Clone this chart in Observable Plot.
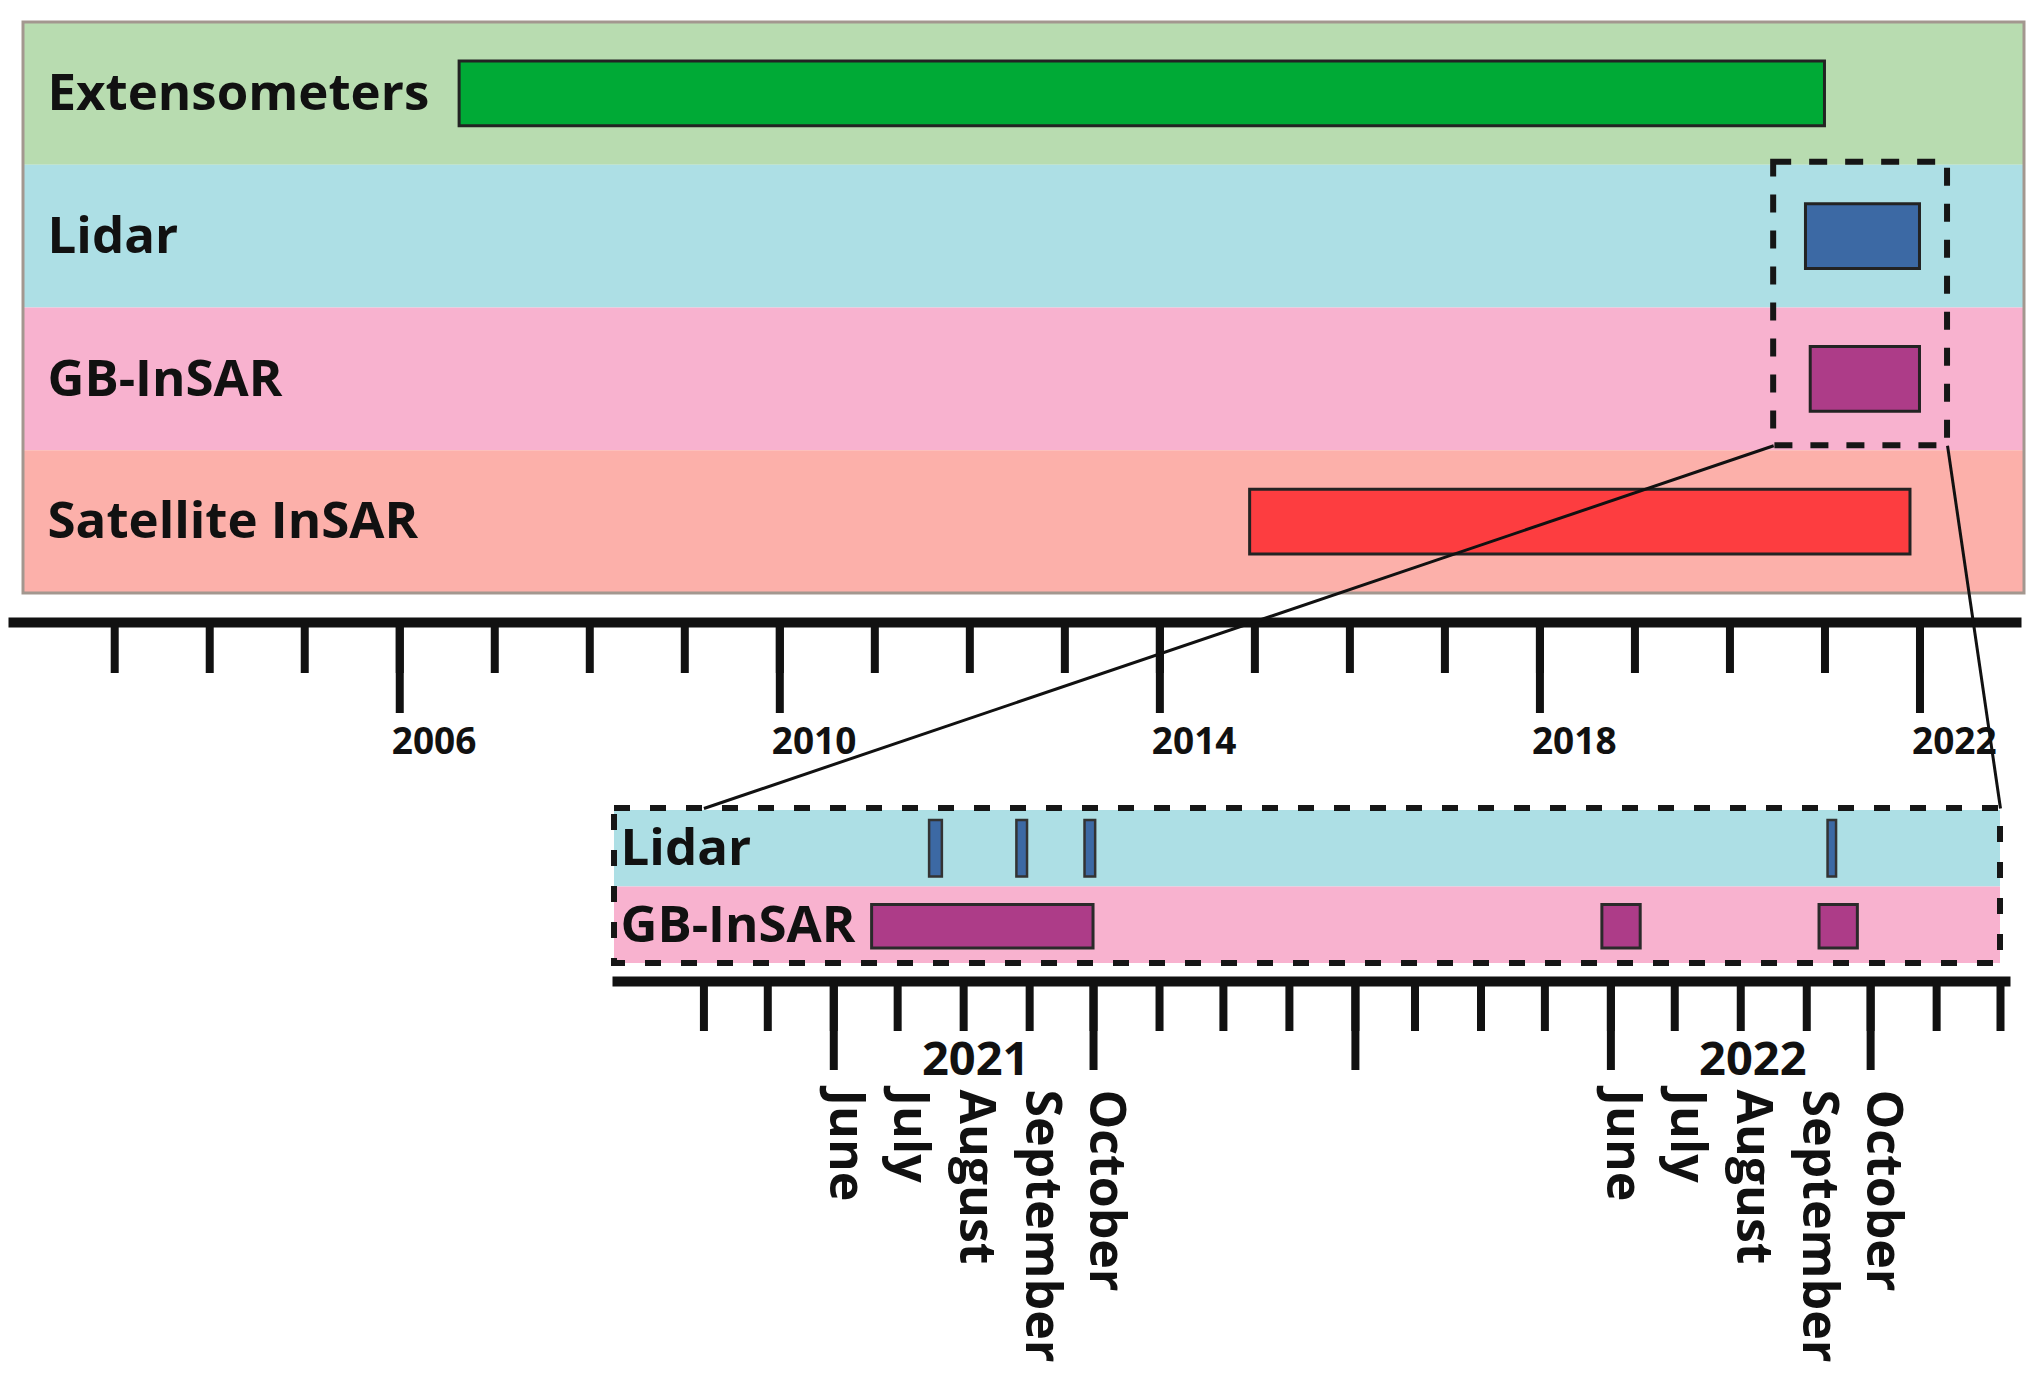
<!DOCTYPE html>
<html>
<head>
<meta charset="utf-8">
<script src="https://cdn.jsdelivr.net/npm/d3@7"></script>
<script src="https://cdn.jsdelivr.net/npm/@observablehq/plot@0.6"></script>
<style>
  html, body { margin: 0; padding: 0; background: #ffffff; overflow: hidden; }
  #chart { position: relative; width: 2044px; height: 1386px; }
  #chart svg { position: absolute; left: 0; top: 0; max-width: none; }
</style>
</head>
<body>
<div id="chart"></div>
<script>
// ---------------- data ----------------
// Upper timeline (decimal years)
const instruments   = ["Extensometers", "Lidar", "GB-InSAR", "Satellite InSAR"];
const bandColors    = ["#b8dcb0", "#addfe5", "#f8b2cf", "#fcb0aa"];
const barColors     = ["#00aa36", "#3c69a4", "#ad3c88", "#fd3d40"];
const periodStart   = [2006.63, 2020.80, 2020.85, 2014.95];
const periodEnd     = [2021.00, 2022.00, 2022.00, 2021.90];
const timelineSpan  = [2002.04, 2023.10];
const yearTicks     = [2003, 2004, 2005, 2006, 2007, 2008, 2009, 2010, 2011, 2012,
                       2013, 2014, 2015, 2016, 2017, 2018, 2019, 2020, 2021, 2022];
const majorYears    = [2006, 2010, 2014, 2018, 2022];
const zoomWindow    = {start: 2020.46, end: 2022.29, rows: ["Lidar", "GB-InSAR"]};

// Zoomed timeline (dates)
const zoomRows      = ["Lidar", "GB-InSAR"];
const zoomSpan      = ["2021-02-18", "2022-12-01"];
const lidarStart    = ["2021-07-16", "2021-08-26", "2021-09-27", "2022-09-11"];
const lidarEnd      = ["2021-07-22", "2021-08-31", "2021-10-02", "2022-09-15"];
const gbStart       = ["2021-06-19", "2022-05-28", "2022-09-07"];
const gbEnd         = ["2021-10-01", "2022-06-15", "2022-09-25"];
const monthTicks    = ["2021-04-01", "2021-05-01", "2021-06-01", "2021-07-01", "2021-08-01",
                       "2021-09-01", "2021-10-01", "2021-11-01", "2021-12-01", "2022-01-01",
                       "2022-02-01", "2022-03-01", "2022-04-01", "2022-05-01", "2022-06-01",
                       "2022-07-01", "2022-08-01", "2022-09-01", "2022-10-01", "2022-11-01",
                       "2022-12-01"];
const majorMonths   = ["2021-06-01", "2021-10-01", "2022-02-01", "2022-06-01", "2022-10-01"];
const monthNames    = ["June", "July", "August", "September", "October",
                       "June", "July", "August", "September", "October"];
const monthDates    = ["2021-06-01", "2021-07-01", "2021-08-01", "2021-09-01", "2021-10-01",
                       "2022-06-01", "2022-07-01", "2022-08-01", "2022-09-01", "2022-10-01"];
const yearLabels    = ["2021", "2022"];
const yearDates     = ["2021-08-01", "2022-08-01"];
const connectorEnds = ["2021-04-01", "2022-12-01"];

// ---------------- build ----------------
const W = 2044, H = 1386;
const FONT = "Open Sans";
const INK = "#111111";
const toDate = s => new Date(s + "T00:00:00Z");

const rows = instruments.map((name, i) => ({
  name, i, band: bandColors[i], color: barColors[i], start: periodStart[i], end: periodEnd[i]
}));
const zRows = zoomRows.map((name, i) => ({name, i, band: bandColors[instruments.indexOf(name)]}));
const lidar = lidarStart.map((s, k) => ({start: toDate(s), end: toDate(lidarEnd[k])}));
const gb = gbStart.map((s, k) => ({start: toDate(s), end: toDate(gbEnd[k])}));
const zSpan = zoomSpan.map(toDate);
const lidarRow = zoomRows.indexOf("Lidar");
const gbRow = zoomRows.indexOf("GB-InSAR");
const winTop = instruments.indexOf(zoomWindow.rows[0]);
const winBottom = instruments.indexOf(zoomWindow.rows[zoomWindow.rows.length - 1]) + 1;
const WIN_INSET_TOP = -3, WIN_INSET_BOTTOM = 5;

const topPlot = Plot.plot({
  width: W, height: H,
  marginLeft: 23, marginRight: W - 2024, marginTop: 22, marginBottom: H - 622,
  style: {background: "transparent"},
  x: {domain: timelineSpan},
  y: {domain: [0, instruments.length], range: [22, 593], axis: null},
  color: {type: "identity"},
  marks: [
    Plot.rect(rows, {x1: () => timelineSpan[0], x2: () => timelineSpan[1], y1: "i", y2: d => d.i + 1, fill: "band"}),
    Plot.rect([timelineSpan], {x1: d => d[0], x2: d => d[1], y1: 0, y2: instruments.length,
      fill: "none", stroke: "#a3978f", strokeWidth: 3}),
    Plot.rect(rows, {x1: "start", x2: "end", y1: "i", y2: d => d.i + 1, insetTop: 39, insetBottom: 39,
      fill: "color", stroke: "#232323", strokeWidth: 3}),
    Plot.text(rows, {y: d => d.i + 0.5, text: "name", frameAnchor: "left", textAnchor: "start", dx: 24,
      lineAnchor: "middle", fontSize: 51, fontWeight: 700, fontFamily: FONT, fill: INK}),
    Plot.rect([zoomWindow], {x1: "start", x2: "end", y1: winTop, y2: winBottom,
      insetTop: WIN_INSET_TOP, insetBottom: WIN_INSET_BOTTOM,
      fill: "none", stroke: "#161616", strokeWidth: 6, strokeDasharray: "18,18"}),
    Plot.frame({anchor: "bottom", stroke: INK, strokeWidth: 10, insetLeft: -10, insetRight: 8}),
    Plot.axisX(yearTicks, {tickSize: 51, stroke: INK, strokeWidth: 8, fill: "none", label: null}),
    Plot.axisX(majorYears, {tickSize: 91, stroke: INK, strokeWidth: 8, fill: "none", label: null}),
    Plot.axisX(majorYears, {tickSize: 0, tickPadding: 105, textAnchor: "start", dx: -8,
      fontSize: 37, fontWeight: 700, fontFamily: FONT, fill: INK, tickFormat: d => String(d), label: null})
  ]
});

const GB_INSET_TOP = 18, GB_INSET_BOTTOM = 15;
const bottomPlot = Plot.plot({
  width: W, height: H,
  marginLeft: 614, marginRight: W - 2000, marginTop: 810, marginBottom: H - 981,
  style: {background: "transparent"},
  x: {type: "utc", domain: zSpan},
  y: {domain: [0, zoomRows.length], range: [810, 963], axis: null},
  color: {type: "identity"},
  marks: [
    Plot.rect(zRows, {x1: () => zSpan[0], x2: () => zSpan[1], y1: "i", y2: d => d.i + 1, fill: "band"}),
    Plot.rect(lidar, {x1: "start", x2: "end", y1: lidarRow, y2: lidarRow + 1, insetTop: 10, insetBottom: 10,
      fill: barColors[1], stroke: "#333", strokeWidth: 2.5}),
    Plot.rect(gb, {x1: "start", x2: "end", y1: gbRow, y2: gbRow + 1, insetTop: GB_INSET_TOP, insetBottom: GB_INSET_BOTTOM,
      fill: barColors[2], stroke: "#2a2a2a", strokeWidth: 3}),
    Plot.text(zRows, {y: d => d.i + 0.5, text: "name", frameAnchor: "left", textAnchor: "start", dx: 6,
      lineAnchor: "middle", fontSize: 51, fontWeight: 700, fontFamily: FONT, fill: INK}),
    Plot.rect([zSpan], {x1: d => d[0], x2: d => d[1], y1: 0, y2: zoomRows.length, insetTop: -2,
      fill: "none", stroke: "#161616", strokeWidth: 6, strokeDasharray: "16,20"}),
    Plot.frame({anchor: "bottom", stroke: INK, strokeWidth: 10, insetLeft: 3, insetRight: -5}),
    Plot.axisX(monthTicks.map(toDate), {tickSize: 50, stroke: INK, strokeWidth: 8, fill: "none", label: null}),
    Plot.axisX(majorMonths.map(toDate), {tickSize: 89, stroke: INK, strokeWidth: 8, fill: "none", label: null}),
    Plot.text(yearLabels.map((t, k) => ({label: t, date: toDate(yearDates[k])})), {
      x: "date", text: "label", frameAnchor: "bottom", dx: 12, dy: 78, lineAnchor: "middle",
      fontSize: 47, fontWeight: 700, fontFamily: FONT, fill: INK}),
    Plot.text(monthNames.map((t, k) => ({label: t, date: toDate(monthDates[k])})), {
      x: "date", text: "label", frameAnchor: "bottom", rotate: 90, textAnchor: "start", lineAnchor: "bottom",
      dx: -4, dy: 108, fontSize: 50, fontWeight: 700, fontFamily: FONT, fill: INK})
  ]
});

// connectors between the zoom window (upper) and the zoomed timeline (lower)
const tx = topPlot.scale("x"), ty = topPlot.scale("y");
const bx = bottomPlot.scale("x"), by = bottomPlot.scale("y");
const yWin = ty.apply(winBottom) - WIN_INSET_BOTTOM;
const yZoom = by.apply(0) - 2;
const connectors = [
  {x1: tx.apply(zoomWindow.start), y1: yWin, x2: bx.apply(toDate(connectorEnds[0])), y2: yZoom},
  {x1: tx.apply(zoomWindow.end),   y1: yWin, x2: bx.apply(toDate(connectorEnds[1])), y2: yZoom}
];
const overlay = Plot.plot({
  width: W, height: H, margin: 0,
  style: {background: "transparent"},
  x: {type: "identity", axis: null},
  y: {type: "identity", axis: null},
  marks: [Plot.link(connectors, {x1: "x1", y1: "y1", x2: "x2", y2: "y2", stroke: INK, strokeWidth: 3})]
});

const chart = document.getElementById("chart");
chart.append(topPlot, bottomPlot, overlay);
</script>
</body>
</html>
